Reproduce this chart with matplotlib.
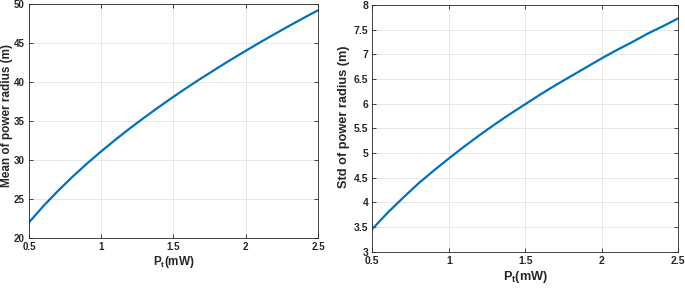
import matplotlib
matplotlib.use('Agg')
import matplotlib.pyplot as plt

# --- data ---
pt_mw = [0.5, 0.6, 0.7, 0.8, 0.9, 1.0, 1.1, 1.2, 1.3, 1.4, 1.5,
         1.6, 1.7, 1.8, 1.9, 2.0, 2.1, 2.2, 2.3, 2.4, 2.5]
mean_radius = [22.00, 24.10, 26.03, 27.83, 29.52, 31.11, 32.63, 34.08, 35.47, 36.81, 38.11,
               39.36, 40.57, 41.74, 42.89, 44.00, 45.09, 46.15, 47.19, 48.20, 49.19]
std_radius = [3.46, 3.79, 4.09, 4.38, 4.64, 4.89, 5.13, 5.36, 5.58, 5.79, 5.99,
              6.19, 6.38, 6.56, 6.74, 6.92, 7.09, 7.25, 7.42, 7.57, 7.73]

x_ticks = [0.5, 1, 1.5, 2, 2.5]
x_ticklabels = ['0.5', '1', '1.5', '2', '2.5']
mean_ticks = [20, 25, 30, 35, 40, 45, 50]
std_ticks = [3, 3.5, 4, 4.5, 5, 5.5, 6, 6.5, 7, 7.5, 8]
std_ticklabels = ['3', '3.5', '4', '4.5', '5', '5.5', '6', '6.5', '7', '7.5', '8']

LINE_COL = '#0072BD'
plt.rcParams['font.family'] = ['Liberation Sans', 'DejaVu Sans']
plt.rcParams['mathtext.fontset'] = 'custom'
plt.rcParams['mathtext.rm'] = 'Liberation Sans:bold'
plt.rcParams['mathtext.it'] = 'Liberation Sans:bold'
plt.rcParams['mathtext.bf'] = 'Liberation Sans:bold'

fig = plt.figure(figsize=(6.85, 2.9), dpi=100)
ax1 = fig.add_axes([0.0423, 0.1793, 0.4219, 0.8069])
ax2 = fig.add_axes([0.5435, 0.1320, 0.4467, 0.8508])


def style(ax, yticks, yticklabels, ylim, ylabel, tsize, lsize, ylab_xy, xlab_y):
    ax.set_xlim(0.5, 2.5)
    ax.set_ylim(*ylim)
    ax.set_xticks(x_ticks)
    ax.set_xticklabels(x_ticklabels)
    ax.set_yticks(yticks)
    ax.set_yticklabels(yticklabels)
    ax.grid(True, color='#e3e3e3', linewidth=0.6)
    ax.set_axisbelow(True)
    ax.tick_params(direction='in', length=3, width=0.6, top=True, right=True,
                   labelsize=tsize, colors='#262626', pad=3)
    for lab in ax.get_xticklabels() + ax.get_yticklabels():
        lab.set_fontweight('bold')
    for s in ax.spines.values():
        s.set_linewidth(0.6)
        s.set_color('#262626')
    ax.set_xlabel(r'P$_\mathrm{t}$(mW)', fontsize=lsize, fontweight='bold', color='#262626')
    ax.set_ylabel(ylabel, fontsize=lsize, fontweight='bold', color='#262626')
    ax.yaxis.set_label_coords(*ylab_xy)
    ax.xaxis.set_label_coords(0.5, xlab_y)


ax1.plot(pt_mw, mean_radius, color=LINE_COL, linewidth=1.6)
style(ax1, mean_ticks, [str(t) for t in mean_ticks], (20, 50), 'Mean of power radius (m)',
      7, 8.5, (-0.056, 0.523), -0.07)

ax2.plot(pt_mw, std_radius, color=LINE_COL, linewidth=1.6)
style(ax2, std_ticks, std_ticklabels, (3, 8), 'Std of power radius (m)',
      7.5, 9.2, (-0.073, 0.548), -0.07)

fig.savefig('out.png', dpi=100, facecolor='white')
